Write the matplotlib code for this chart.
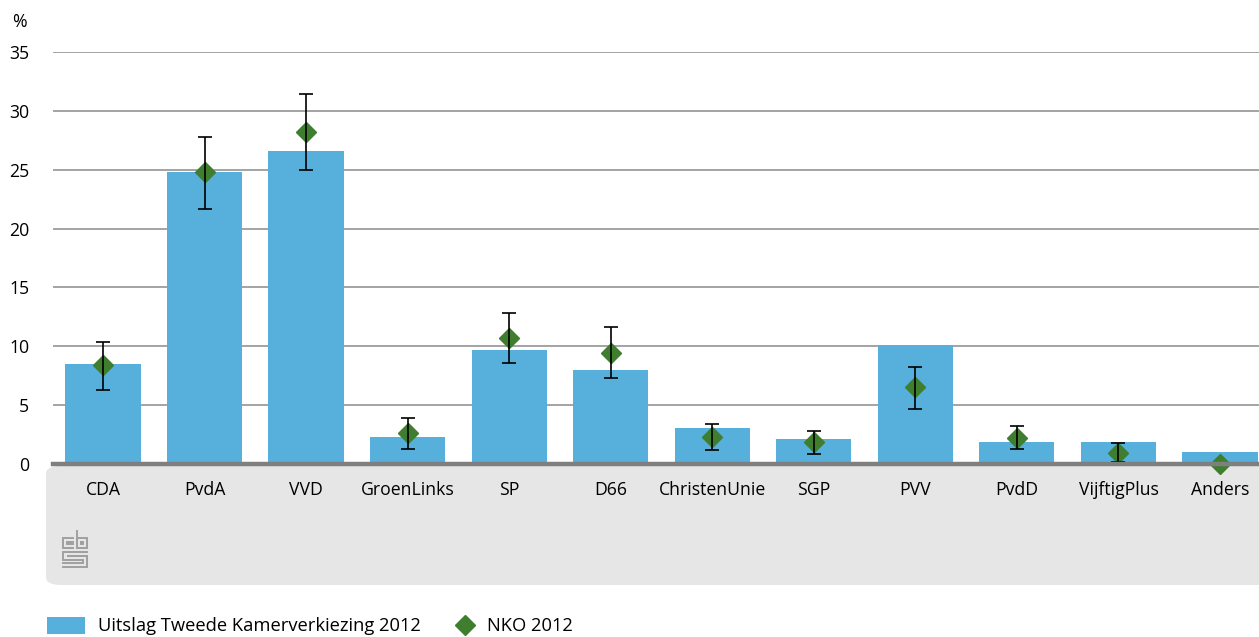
import matplotlib
matplotlib.use("Agg")
import matplotlib.pyplot as plt
from matplotlib.patches import FancyBboxPatch, Rectangle
from matplotlib.lines import Line2D

partijen = ["CDA", "PvdA", "VVD", "GroenLinks", "SP", "D66", "ChristenUnie",
            "SGP", "PVV", "PvdD", "VijftigPlus", "Anders"]
uitslag = [8.5, 24.8, 26.6, 2.3, 9.7, 8.0, 3.1, 2.1, 10.1, 1.9, 1.9, 1.0]
nko = [8.4, 24.8, 28.2, 2.6, 10.7, 9.4, 2.3, 1.9, 6.5, 2.2, 0.9, 0.0]
nko_laag = [6.3, 21.7, 25.0, 1.3, 8.6, 7.3, 1.2, 0.85, 4.7, 1.3, 0.2, 0.0]
nko_hoog = [10.4, 27.8, 31.4, 3.9, 12.8, 11.6, 3.4, 2.8, 8.2, 3.2, 1.8, 0.0]
yticks = [0, 5, 10, 15, 20, 25, 30, 35]

BLAUW = "#57afdc"
GROEN = "#3f7d2f"
W, H = 1259, 637


def main():
    plt.rcParams["font.family"] = ["Open Sans", "DejaVu Sans"]
    fig = plt.figure(figsize=(W / 100, H / 100), dpi=100)

    # grijs paneel onder de as
    paneel = FancyBboxPatch((46 / W, (H - 585) / H), (W + 20 - 46) / W, (585 - 466) / H,
                            boxstyle="round,pad=0,rounding_size=0.012",
                            transform=fig.transFigure, facecolor="#e6e6e6",
                            edgecolor="none", zorder=-1)
    fig.patches.append(paneel)

    ax = fig.add_axes([53 / W, 1 - 464 / H, (W - 53) / W, (464 - 52) / H])
    ax.set_facecolor("none")
    x = range(len(partijen))
    ax.bar(x, uitslag, width=0.74, color=BLAUW, zorder=2)

    err = [[n - l for n, l in zip(nko, nko_laag)],
           [h - n for n, h in zip(nko, nko_hoog)]]
    idx = [i for i in x if nko_hoog[i] > 0]
    ax.errorbar([i for i in idx], [nko[i] for i in idx],
                yerr=[[err[0][i] for i in idx], [err[1][i] for i in idx]],
                fmt="none", ecolor="black", elinewidth=1.2, capsize=5,
                capthick=1.2, zorder=4)
    ax.plot(x, nko, linestyle="none", marker="D", markersize=10.5,
            color=GROEN, zorder=3, clip_on=False)

    ax.set_xlim(-0.492, 11.384)
    ax.set_ylim(0, 35)
    ax.set_yticks(yticks)
    ax.set_xticks(list(x))
    ax.set_xticklabels(partijen)
    ax.grid(axis="y", color="#8a8a8a", linewidth=1.1, zorder=1)
    ax.set_axisbelow(True)
    for s in ["top", "right", "left"]:
        ax.spines[s].set_visible(False)
    ax.spines["bottom"].set_color("#7f7f7f")
    ax.spines["bottom"].set_linewidth(3.2)
    ax.spines["bottom"].set_zorder(5)
    ax.tick_params(axis="x", length=0, pad=12, labelsize=12.7, colors="black")
    ax.tick_params(axis="y", length=0, pad=17, labelsize=12.7, colors="black")

    fig.text(12 / W, 1 - 22 / H, "%", fontsize=12.7, va="center", ha="left")

    # cbs logo (eenvoudige lijnen)
    g = "#a0a0a0"
    def lijn(xs, ys):
        fig.lines.append(Line2D([v / W for v in xs], [1 - v / H for v in ys],
                                color=g, linewidth=1.4, transform=fig.transFigure,
                                solid_joinstyle="miter"))
    # c
    lijn([73, 63, 63, 73], [538, 538, 548, 548])
    lijn([73, 67, 67, 73], [542, 542, 544, 544])
    # b
    lijn([77, 77, 87, 87, 77], [531, 548, 548, 538, 538])
    lijn([81, 81, 83, 83, 81], [542, 544, 544, 542, 542])
    # s
    lijn([87, 63, 63, 83, 83, 63], [552, 552, 560, 560, 563, 563])
    lijn([87, 67, 67, 87, 87, 63], [556, 556, 556, 556, 567, 567])

    # legenda
    fig.patches.append(Rectangle((47 / W, 1 - 634 / H), 38 / W, 17 / H,
                                 transform=fig.transFigure, facecolor=BLAUW,
                                 edgecolor="none"))
    fig.text(98 / W, 1 - 626 / H, "Uitslag Tweede Kamerverkiezing 2012",
             fontsize=13.2, va="center", ha="left")
    fig.lines.append(Line2D([465 / W], [1 - 625 / H], marker="D", markersize=10.5,
                            color=GROEN, linestyle="none", transform=fig.transFigure))
    fig.text(487 / W, 1 - 626 / H, "NKO 2012", fontsize=13.2, va="center", ha="left")

    fig.savefig("out.png", dpi=100)


if __name__ == "__main__":
    main()
